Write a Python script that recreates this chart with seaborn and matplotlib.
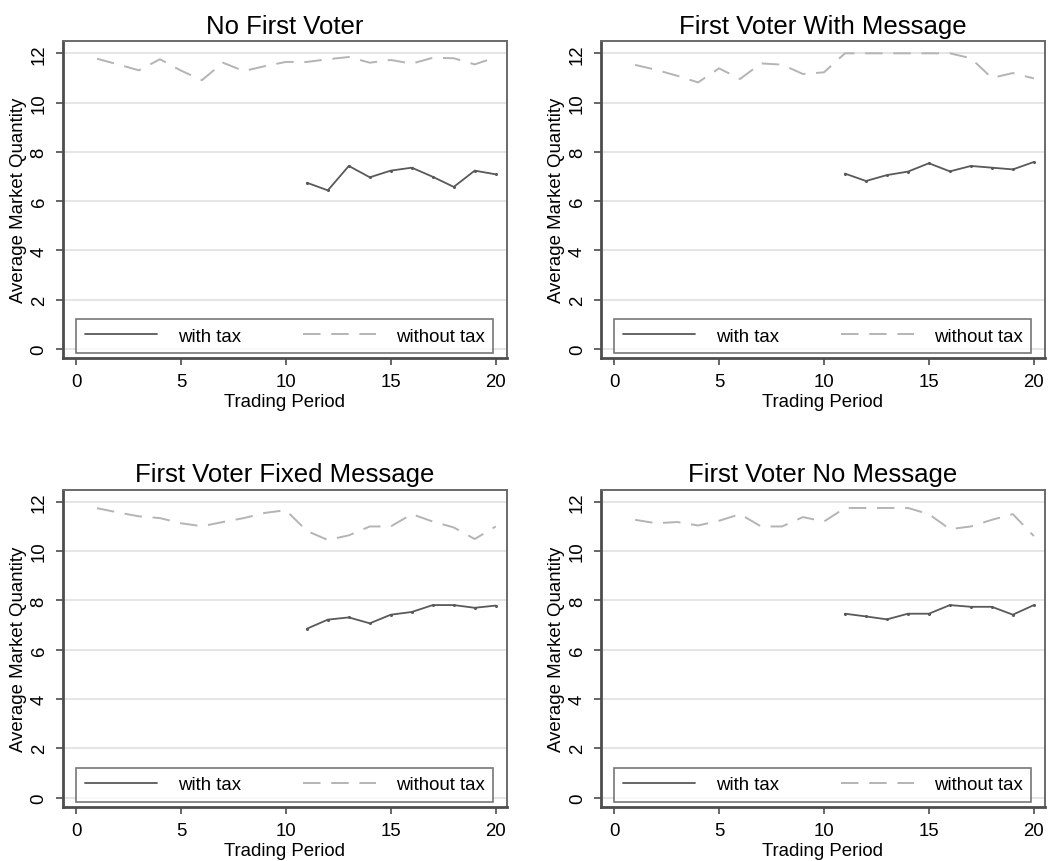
import numpy as np
import pandas as pd
import seaborn as sns
import matplotlib.pyplot as plt

# periods
periods_all = list(range(1, 21))
periods_tax = list(range(11, 21))

titles = ["No First Voter", "First Voter With Message",
          "First Voter Fixed Message", "First Voter No Message"]

# without tax (periods 1-20)
notax_nfv = [11.78, 11.55, 11.31, 11.76, 11.30, 10.91, 11.62, 11.28, 11.48, 11.65,
             11.65, 11.76, 11.85, 11.62, 11.73, 11.58, 11.82, 11.80, 11.55, 11.84]
notax_fvwm = [11.53, 11.33, 11.09, 10.82, 11.39, 10.96, 11.59, 11.54, 11.16, 11.23,
              12.0, 12.0, 12.0, 12.0, 12.0, 12.0, 11.80, 11.00, 11.20, 10.98]
notax_fvfm = [11.74, 11.57, 11.41, 11.34, 11.13, 11.01, 11.18, 11.34, 11.55, 11.66,
              10.82, 10.45, 10.64, 11.00, 11.00, 11.50, 11.20, 10.96, 10.49, 11.00]
notax_fvnm = [11.27, 11.13, 11.18, 11.04, 11.23, 11.50, 11.00, 11.00, 11.38, 11.20,
              11.75, 11.75, 11.75, 11.75, 11.50, 10.89, 11.00, 11.27, 11.50, 10.61]

# with tax (periods 11-20)
tax_nfv = [6.75, 6.44, 7.43, 6.97, 7.24, 7.36, 6.99, 6.58, 7.24, 7.09]
tax_fvwm = [7.12, 6.82, 7.06, 7.20, 7.54, 7.21, 7.43, 7.36, 7.29, 7.59]
tax_fvfm = [6.85, 7.22, 7.31, 7.07, 7.42, 7.53, 7.81, 7.81, 7.70, 7.79]
tax_fvnm = [7.46, 7.35, 7.23, 7.46, 7.46, 7.81, 7.74, 7.74, 7.42, 7.81]

notax = [notax_nfv, notax_fvwm, notax_fvfm, notax_fvnm]
tax = [tax_nfv, tax_fvwm, tax_fvfm, tax_fvnm]

sns.set_style("white")
plt.rcParams['font.family'] = ['Liberation Sans', 'DejaVu Sans']
plt.rcParams.update({'text.color': 'black', 'axes.labelcolor': 'black',
                     'xtick.labelcolor': 'black', 'ytick.labelcolor': 'black'})

fig, axes = plt.subplots(2, 2, figsize=(10.5, 8.62), dpi=100)
fig.subplots_adjust(left=0.06, right=0.995, top=0.951, bottom=0.063,
                    wspace=0.213, hspace=0.415)

frame_col = '#4d4d4d'
for i, ax in enumerate(axes.flat):
    ax.set_axisbelow(True)
    ax.yaxis.grid(True, color='#e3e3e3', linewidth=1.3)
    ax.set_yticks(range(0, 13, 2))
    df_tax = pd.DataFrame({'period': periods_tax, 'q': tax[i]})
    df_notax = pd.DataFrame({'period': periods_all, 'q': notax[i]})
    sns.lineplot(data=df_tax, x='period', y='q', ax=ax, color='#595959',
                 linewidth=1.3, marker='o', markersize=2.2, markeredgewidth=0,
                 label='with tax')
    sns.lineplot(data=df_notax, x='period', y='q', ax=ax, color='#b4b4b4',
                 linewidth=1.4, dashes=False, label='without tax')
    ax.lines[-1].set_dashes((9, 5.5))

    ax.set_xlim(-0.62, 20.52)
    ax.set_ylim(-0.37, 12.49)
    ax.set_xticks(range(0, 21, 5))
    ax.set_title(titles[i], fontsize=18.5, pad=6)
    ax.set_xlabel('Trading Period', fontsize=13.4, labelpad=2)
    ax.set_ylabel('Average Market Quantity', fontsize=13.4, labelpad=2.5)
    ax.tick_params(axis='both', labelsize=13.4, length=5, width=1.2, pad=6,
                   color=frame_col, direction='out', bottom=True, left=True)
    for lbl in ax.get_yticklabels():
        lbl.set_rotation(90)
        lbl.set_va('center')
    for side in ['top', 'right']:
        ax.spines[side].set_color('#6a6a6a')
        ax.spines[side].set_linewidth(1.4)
    for side in ['left', 'bottom']:
        ax.spines[side].set_color(frame_col)
        ax.spines[side].set_linewidth(2.0)

    leg = ax.legend(loc='lower left', bbox_to_anchor=(0.03, 0.016, 0.94, 0.117),
                    mode='expand', ncol=2, fontsize=13.4, handlelength=3.9,
                    handletextpad=1.1, fancybox=False, frameon=True,
                    borderaxespad=0, borderpad=0.45)
    leg.get_frame().set_edgecolor('#555555')
    leg.get_frame().set_linewidth(1.2)
    leg.legend_handles[0].set_marker('')
    leg.legend_handles[1].set_dashes((9, 5.5))

fig.savefig('out.png', dpi=100, facecolor='white')
